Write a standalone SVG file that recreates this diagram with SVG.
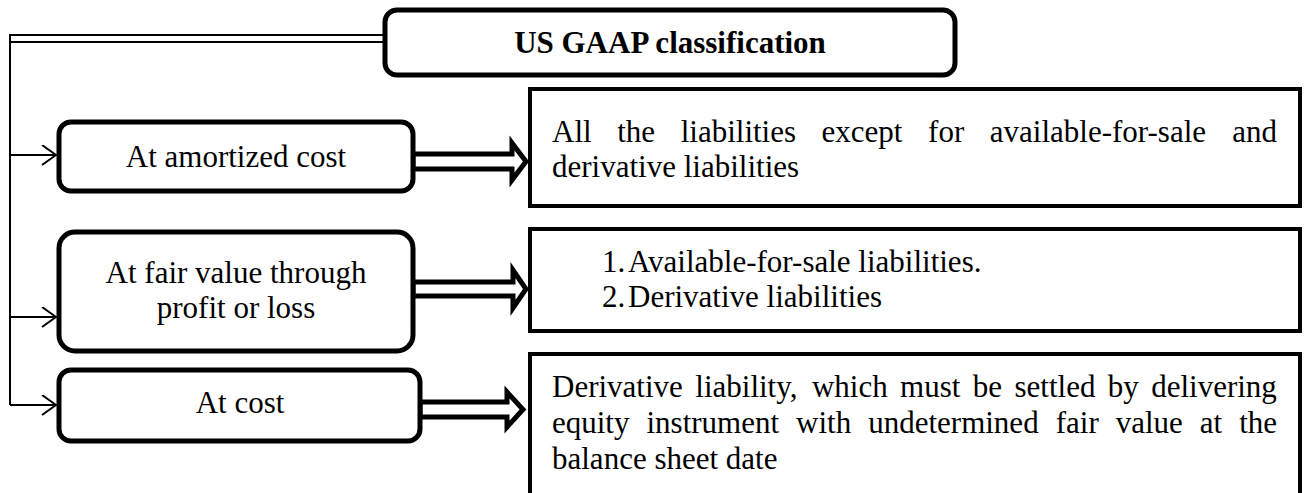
<svg xmlns="http://www.w3.org/2000/svg" width="1304" height="493" viewBox="0 0 1304 493">
  <style>
    .rbox { fill: #fff; stroke: #000; stroke-width: 5; }
    .sbox { fill: #fff; stroke: #000; stroke-width: 4; }
    .thin { fill: none; stroke: #000; stroke-width: 2; }
    .block { fill: #fff; stroke: #000; stroke-width: 5; stroke-linejoin: miter; }
    .lbl { font-family: 'Liberation Serif', 'DejaVu Serif', serif; font-size: 31px; fill: #000; }
    .title { font-weight: bold; }
    .mid { text-anchor: middle; }
  </style>
  <defs>
    <marker id="open" markerWidth="18" markerHeight="24" refX="15" refY="10" orient="auto" markerUnits="userSpaceOnUse">
      <path d="M1,0 L15,10 L1,20" fill="none" stroke="#000" stroke-width="2"/>
    </marker>
  </defs>

  <!-- connectors: double trunk from the root, open-arrow branches, hollow block arrows -->
  <g id="connectors">
    <path class="thin" d="M385,35 H10 V405"/>
    <path class="thin" d="M385,42 H11"/>
    <path class="thin" d="M10,155 H56" marker-end="url(#open)"/>
    <path class="thin" d="M10,317 H56" marker-end="url(#open)"/>
    <path class="thin" d="M10,405 H56" marker-end="url(#open)"/>
    <path class="block" d="M413,154 H512 V143 L526,161.5 L512,180 V169 H413 Z"/>
    <path class="block" d="M413,282 H513 V270 L526,289 L513,308 V296 H413 Z"/>
    <path class="block" d="M420,402 H507 V392 L523,409.5 L507,427 V417 H420 Z"/>
  </g>

  <g id="root" class="lbl">
    <rect class="rbox" x="385" y="10" width="570" height="65" rx="12"/>
    <text class="title mid" x="670" y="53">US GAAP classification</text>
  </g>

  <g id="amortized" class="lbl">
    <rect class="rbox" x="59" y="122" width="354" height="69" rx="12"/>
    <text class="mid" x="236" y="167">At amortized cost</text>
  </g>

  <g id="fairvalue" class="lbl">
    <rect class="rbox" x="59" y="232" width="354" height="119" rx="16"/>
    <text class="mid" x="236" y="283">At fair value through</text>
    <text class="mid" x="236" y="318">profit or loss</text>
  </g>

  <g id="cost" class="lbl">
    <rect class="rbox" x="59" y="370" width="361" height="71" rx="12"/>
    <text class="mid" x="240" y="413">At cost</text>
  </g>

  <g id="amortized-detail" class="lbl">
    <rect class="sbox" x="530" y="89" width="770" height="117"/>
    <text y="142"><tspan x="552">All</tspan><tspan x="617.2">the</tspan><tspan x="680.7">liabilities</tspan><tspan x="821.6">except</tspan><tspan x="928.1">for</tspan><tspan x="989.8">available-for-sale</tspan><tspan x="1232.2">and</tspan></text>
    <text x="552" y="177">derivative liabilities</text>
  </g>

  <g id="fairvalue-detail" class="lbl">
    <rect class="sbox" x="530" y="229" width="770" height="102"/>
    <text y="272"><tspan x="602">1.</tspan><tspan x="628">Available-for-sale liabilities.</tspan></text>
    <text y="307"><tspan x="602">2.</tspan><tspan x="628">Derivative liabilities</tspan></text>
  </g>

  <g id="cost-detail" class="lbl">
    <rect class="sbox" x="530" y="354" width="770" height="160"/>
    <text y="397"><tspan x="552">Derivative</tspan><tspan x="695.3">liability,</tspan><tspan x="811.9">which</tspan><tspan x="900.1">must</tspan><tspan x="972.8">be</tspan><tspan x="1014.5">settled</tspan><tspan x="1107.8">by</tspan><tspan x="1151.2">delivering</tspan></text>
    <text y="433"><tspan x="552">equity</tspan><tspan x="646.5">instrument</tspan><tspan x="796.1">with</tspan><tspan x="868.2">undetermined</tspan><tspan x="1055.7">fair</tspan><tspan x="1115.7">value</tspan><tspan x="1199.8">at</tspan><tspan x="1239.2">the</tspan></text>
    <text x="552" y="469">balance sheet date</text>
  </g>
</svg>
